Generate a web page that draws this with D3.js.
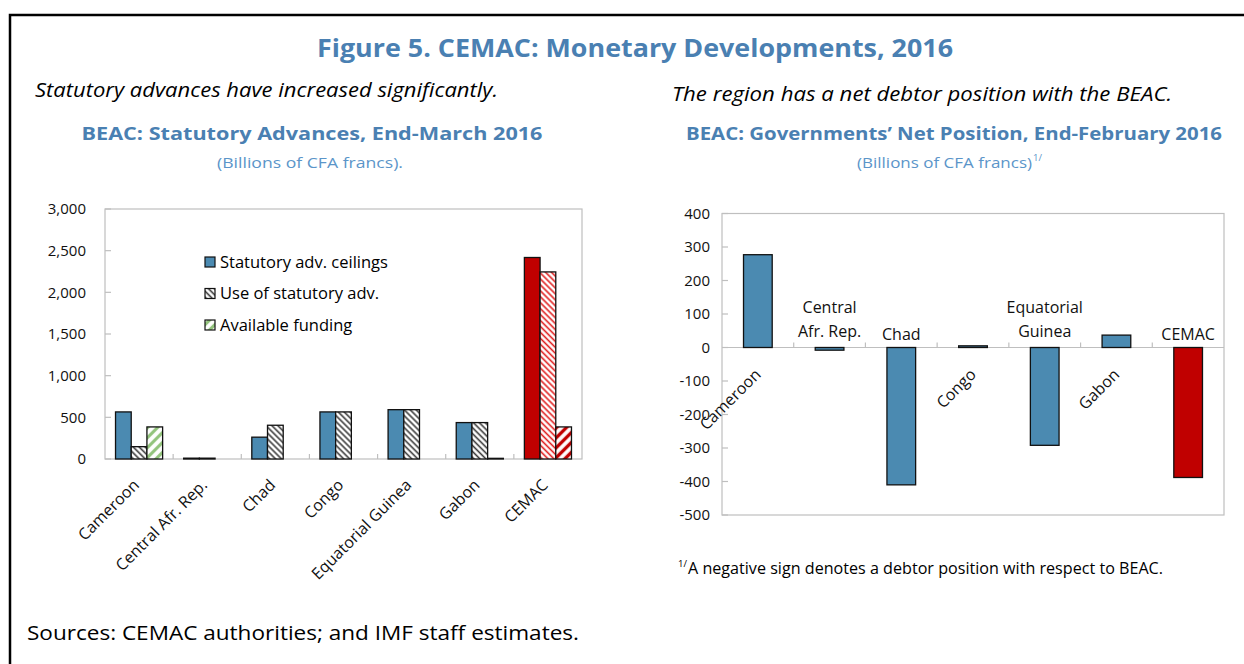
<!DOCTYPE html>
<html>
  <head>
    <meta charset="utf-8">
    <title>CEMAC Monetary Developments</title>
    <script src="https://d3js.org/d3.v7.min.js"></script>
  <style>
    body { margin: 0; background: #fff; }
    svg { display: block; font-family: "Open Sans", sans-serif; }
    .box { fill: none; stroke: #bfbfbf; stroke-width: 1.2; }
    .tickline { stroke: #bfbfbf; stroke-width: 1.2; }
    .axlab { font-size: 15px; fill: #111; }
    .catlab { font-size: 16px; fill: #111; }
  </style>
  </head>
  <body>
    <script>
    // ---- data ----
    const categories = ["Cameroon", "Central Afr. Rep.", "Chad", "Congo", "Equatorial Guinea", "Gabon", "CEMAC"]
    const ceilings  = [565, 10, 262, 565, 592, 437, 2418]
    const useAdv    = [148, 10, 405, 565, 592, 437, 2245]
    const available = [385, 0, 0, 0, 0, 8, 385]
    const leftTicks = [0, 500, 1000, 1500, 2000, 2500, 3000]

    const netPosition = [277, -8, -410, 5, -292, 37, -388]
    const rightTicks = [-500, -400, -300, -200, -100, 0, 100, 200, 300, 400]
    // label lines for the right chart (horizontal when bar is negative)
    const rightLabelLines = [["Cameroon"], ["Central", "Afr. Rep."], ["Chad"], ["Congo"], ["Equatorial", "Guinea"], ["Gabon"], ["CEMAC"]]

    const seriesNames = ["Statutory adv. ceilings", "Use of statutory adv.", "Available funding"]

    const W = 1244, H = 664
    const blue = "#4b8ab1", red = "#c00000", titleBlue = "#4a80b2", subBlue = "#5b95c9"

    const svg = d3.select("body").append("svg").attr("width", W).attr("height", H)

    // patterns
    const defs = svg.append("defs")
    function hatch(id, color, angle, step, sw, bg) {
      const p = defs.append("pattern").attr("id", id)
        .attr("patternUnits", "userSpaceOnUse")
        .attr("width", step).attr("height", step)
        .attr("patternTransform", "rotate(" + angle + ")")
      p.append("rect").attr("width", step).attr("height", step).attr("fill", bg || "#fff")
      p.append("line").attr("x1", step / 2).attr("x2", step / 2).attr("y1", 0).attr("y2", step)
        .attr("stroke", color).attr("stroke-width", sw)
    }
    hatch("grayHatch", "#3a3a3a", -45, 4.2, 1.6)
    hatch("greenHatch", "#93c47d", 45, 7, 3.2)
    hatch("redHatch", "#e02020", -45, 4.2, 1.6)
    hatch("redWide", red, 45, 7, 3.4)

    // frame
    svg.append("path").attr("d", "M10," + H + "V15H" + W)
      .attr("fill", "none").attr("stroke", "#000").attr("stroke-width", 2.5)

    function txt(x, y, s, size, opts) {
      opts = opts || {}
      const t = svg.append("text").attr("x", x).attr("y", y)
        .attr("font-size", size).attr("text-anchor", opts.anchor || "start")
        .attr("fill", opts.fill || "#000")
        .attr("font-weight", opts.bold ? "bold" : "normal")
        .attr("font-style", opts.italic ? "italic" : "normal")
        .text(s)
      if (opts.len) t.attr("textLength", opts.len).attr("lengthAdjust", "spacingAndGlyphs")
      return t
    }

    // titles
    txt(635, 57, "Figure 5. CEMAC: Monetary Developments, 2016", 24.5, {anchor: "middle", bold: true, fill: titleBlue, len: 636})
    txt(35, 97, "Statutory advances have increased significantly.", 19.5, {italic: true, len: 463})
    txt(672, 101, "The region has a net debtor position with the BEAC.", 19.5, {italic: true, len: 500})

    txt(312, 140, "BEAC: Statutory Advances, End-March 2016", 18.5, {anchor: "middle", bold: true, fill: titleBlue, len: 461})
    txt(310, 168, "(Billions of CFA francs).", 15, {anchor: "middle", fill: subBlue, len: 186})

    txt(954, 140, "BEAC: Governments\u2019 Net Position, End-February 2016", 18.5, {anchor: "middle", bold: true, fill: titleBlue, len: 536})
    txt(857, 168, "(Billions of CFA francs)", 15, {fill: subBlue, len: 175})
    txt(1033, 161, "1/", 9.5, {fill: subBlue})

    // ================= left chart =================
    const L = {x0: 105, x1: 582, y0: 209, y1: 459}
    const xL = d3.scaleBand().domain(categories).range([L.x0, L.x1])
    const keys = ["ceil", "use", "avail"]
    const xSub = d3.scaleBand().domain(keys).range([0, xL.bandwidth()]).paddingOuter(0.67)
    const yL = d3.scaleLinear().domain([0, 3000]).range([L.y1, L.y0])

    const gL = svg.append("g")
    gL.append("rect").attr("class", "box").attr("x", L.x0).attr("y", L.y0)
      .attr("width", L.x1 - L.x0).attr("height", L.y1 - L.y0)

    // y ticks (inward)
    leftTicks.forEach(function (t) {
      gL.append("line").attr("class", "tickline").attr("x1", L.x0).attr("x2", L.x0 + 6)
        .attr("y1", yL(t)).attr("y2", yL(t))
      gL.append("text").attr("class", "axlab").attr("x", 86).attr("y", yL(t)).attr("dy", "0.35em")
        .attr("text-anchor", "end").text(d3.format(",")(t))
    })
    // category ticks (upward)
    categories.slice(1).forEach(function (c) {
      gL.append("line").attr("class", "tickline").attr("x1", xL(c)).attr("x2", xL(c))
        .attr("y1", L.y1).attr("y2", L.y1 - 5)
    })

    const rows = categories.map(function (c, i) {
      const cem = c === "CEMAC"
      return [
        {c: c, k: "ceil", v: ceilings[i], fill: cem ? red : blue},
        {c: c, k: "use", v: useAdv[i], fill: cem ? "url(#redHatch)" : "url(#grayHatch)"},
        {c: c, k: "avail", v: available[i], fill: cem ? "url(#redWide)" : "url(#greenHatch)"}
      ]
    })
    gL.selectAll("g.grp").data(rows).enter().append("g")
      .attr("transform", function (d) { return "translate(" + xL(d[0].c) + ",0)" })
      .selectAll("rect").data(function (d) { return d.filter(function (e) { return e.v > 0 }) })
      .enter().append("rect")
      .attr("x", function (d) { return xSub(d.k) })
      .attr("width", xSub.bandwidth())
      .attr("y", function (d) { return yL(d.v) })
      .attr("height", function (d) { return yL(0) - yL(d.v) })
      .attr("fill", function (d) { return d.fill })
      .attr("stroke", "#111").attr("stroke-width", 1.3)

    // rotated category labels
    categories.forEach(function (c) {
      const cx = xL(c) + xL.bandwidth() / 2
      gL.append("text").attr("class", "catlab")
        .attr("transform", "translate(" + (cx + 1) + "," + (L.y1 + 27) + ") rotate(-45)")
        .attr("text-anchor", "end").text(c)
    })

    // legend
    const legFills = [blue, "url(#grayHatch)", "url(#greenHatch)"]
    seriesNames.forEach(function (s, i) {
      const y = 262 + i * 31.5
      gL.append("rect").attr("x", 205).attr("y", y - 5).attr("width", 10).attr("height", 10)
        .attr("fill", legFills[i]).attr("stroke", "#111").attr("stroke-width", 1.2)
      gL.append("text").attr("x", 220).attr("y", y).attr("dy", "0.35em")
        .attr("font-size", 16.5).text(s)
    })

    // ================= right chart =================
    const R = {x0: 722, x1: 1224, y0: 213.5, y1: 515}
    const xR = d3.scaleBand().domain(categories).range([R.x0, R.x1]).paddingInner(0.6).paddingOuter(0.3)
    const xR0 = d3.scaleBand().domain(categories).range([R.x0, R.x1])
    const yR = d3.scaleLinear().domain([-500, 400]).range([R.y1, R.y0])

    const gR = svg.append("g")
    gR.append("rect").attr("class", "box").attr("x", R.x0).attr("y", R.y0)
      .attr("width", R.x1 - R.x0).attr("height", R.y1 - R.y0)
    rightTicks.forEach(function (t) {
      gR.append("line").attr("class", "tickline").attr("x1", R.x0).attr("x2", R.x0 + 6)
        .attr("y1", yR(t)).attr("y2", yR(t))
      gR.append("text").attr("class", "axlab").attr("x", 710).attr("y", yR(t)).attr("dy", "0.35em")
        .attr("text-anchor", "end").text(t)
    })
    gR.append("line").attr("class", "tickline").attr("x1", R.x0).attr("x2", R.x1)
      .attr("y1", yR(0)).attr("y2", yR(0))
    categories.slice(1).forEach(function (c) {
      gR.append("line").attr("class", "tickline").attr("x1", xR0(c)).attr("x2", xR0(c))
        .attr("y1", yR(0)).attr("y2", yR(0) - 5)
    })

    gR.selectAll("rect.bar").data(categories).enter().append("rect")
      .attr("x", function (c) { return xR(c) })
      .attr("width", xR.bandwidth())
      .attr("y", function (c, i) { return yR(Math.max(0, netPosition[i])) })
      .attr("height", function (c, i) { return Math.abs(yR(netPosition[i]) - yR(0)) })
      .attr("fill", function (c) { return c === "CEMAC" ? red : blue })
      .attr("stroke", "#111").attr("stroke-width", 1.3)

    categories.forEach(function (c, i) {
      const cx = xR0(c) + xR0.bandwidth() / 2
      const lines = rightLabelLines[i]
      if (netPosition[i] >= 0) {
        gR.append("text").attr("class", "catlab")
          .attr("transform", "translate(" + (cx + 4) + "," + (yR(0) + 28) + ") rotate(-45)")
          .attr("text-anchor", "end").text(lines.join(" "))
      } else {
        lines.forEach(function (ln, j) {
          const base = lines.length > 1 ? 11 : 8
          gR.append("text").attr("class", "catlab").attr("x", cx)
            .attr("y", yR(0) - base - (lines.length - 1 - j) * 24)
            .attr("text-anchor", "middle").text(ln)
        })
      }
    })

    // footnote + sources
    txt(678, 567, "1/", 9.5)
    txt(688, 574, "A negative sign denotes a debtor position with respect to BEAC.", 15.5, {len: 475})
    txt(27, 640, "Sources: CEMAC authorities; and IMF staff estimates.", 20, {len: 552})
    </script>
  </body>
</html>
